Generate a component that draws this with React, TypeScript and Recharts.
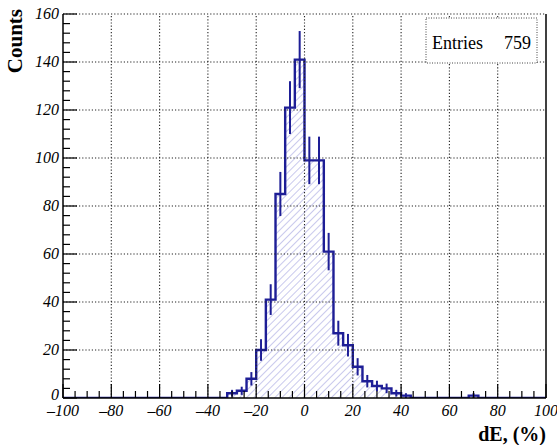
import React from 'react';
import { ComposedChart, Area, Scatter, ErrorBar, XAxis, YAxis, ReferenceLine } from 'recharts';

// Histogram binning: 50 bins of width 4 (%) from -100 to 100
const X_MIN = -100;
const X_MAX = 100;
const BIN_WIDTH = 4;

// Counts per bin (lower edges -100, -96, ..., 96)
const binCounts = [
  0, 0, 0, 0, 0, 0, 0, 0, // -100 .. -68
  0, 0, 0, 0, 0, 0, 0, 0, // -68 .. -36
  0, // -36 .. -32
  2, 3, 8, 20, 41, 85, 121, 141, // -32 .. 0
  99, 99, 61, 27, 22, 13, 7, 5, 4, 2, 1, // 0 .. 44
  0, 0, 0, 0, 0, 0, // 44 .. 68
  1, // 68 .. 72
  0, 0, 0, 0, 0, 0, 0, // 72 .. 100
];

// Error bar half-lengths (per bin)
const binErrors = [
  0, 0, 0, 0, 0, 0, 0, 0,
  0, 0, 0, 0, 0, 0, 0, 0,
  0,
  1.4, 1.7, 2.8, 4.5, 6.4, 9.2, 11, 11.9,
  9.9, 9.9, 7.8, 5.2, 4.7, 3.6, 2.6, 2.2, 2, 1.4, 1,
  0, 0, 0, 0, 0, 0,
  1,
  0, 0, 0, 0, 0, 0, 0,
];

const xMajorTicks = [-100, -80, -60, -40, -20, 0, 20, 40, 60, 80, 100];
const yMajorTicks = [0, 20, 40, 60, 80, 100, 120, 140, 160];
const X_MINOR_STEP = 5;
const Y_MINOR_STEP = 4;
const ENTRIES = 759;

const xAllTicks: number[] = [];
for (let v = X_MIN; v <= X_MAX; v += X_MINOR_STEP) xAllTicks.push(v);
const yAllTicks: number[] = [];
for (let v = 0; v <= 160; v += Y_MINOR_STEP) yAllTicks.push(v);

const lowEdges = binCounts.map((_, i) => X_MIN + i * BIN_WIDTH);
const areaData = [
  ...binCounts.map((c, i) => ({ x: lowEdges[i], y: c })),
  { x: X_MAX, y: binCounts[binCounts.length - 1] },
];
const errData = binCounts
  .map((c, i) => ({ x: lowEdges[i] + BIN_WIDTH / 2, y: c, err: binErrors[i] }))
  .filter((d) => d.y > 0);

const LINE = '#1e1e96';
const HATCH = '#9494dc';
const FONT = '"Liberation Serif", "Times New Roman", serif';

const fmt = (v: number) => (v < 0 ? '\u2013' + Math.abs(v) : String(v));

const XTick = (props: any) => {
  const { x, y, payload } = props;
  const v = payload.value;
  const major = v % 20 === 0;
  return (
    <g>
      <line x1={x} x2={x} y1={y} y2={y - (major ? 14 : 7)} stroke="#000" strokeWidth={1.2} />
      {major && (
        <text x={x} y={y + 18} textAnchor="middle" fontFamily={FONT} fontStyle="italic" fontSize={16} fill="#000">
          {fmt(v)}
        </text>
      )}
    </g>
  );
};

const YTick = (props: any) => {
  const { x, y, payload } = props;
  const v = payload.value;
  const major = v % 20 === 0;
  return (
    <g>
      <line x1={x} x2={x + (major ? 14 : 7)} y1={y} y2={y} stroke="#000" strokeWidth={1.2} />
      {major && (
        <text
          x={x - 4}
          y={v === 0 ? y - 3 : y}
          dy="0.33em"
          textAnchor="end"
          fontFamily={FONT}
          fontStyle="italic"
          fontSize={16}
          fill="#000"
        >
          {fmt(v)}
        </text>
      )}
    </g>
  );
};

export default function App() {
  return (
    <div style={{ position: 'absolute', left: 0, top: 0, width: 557, height: 445, background: '#fff' }}>
      <ComposedChart width={557} height={445} margin={{ top: 14, right: 11, bottom: 0, left: 0 }}>
        <defs>
          <pattern id="hatch" patternUnits="userSpaceOnUse" width="5" height="5" patternTransform="rotate(45)">
            <line x1="0" y1="0" x2="0" y2="5" stroke={HATCH} strokeWidth="1" />
          </pattern>
        </defs>
        <XAxis
          type="number"
          dataKey="x"
          domain={[X_MIN, X_MAX]}
          ticks={xAllTicks}
          interval={0}
          allowDataOverflow
          tickLine={false}
          tickSize={0}
          tickMargin={0}
          height={47}
          axisLine={{ stroke: '#000', strokeWidth: 1.5 }}
          tick={<XTick />}
        />
        <YAxis
          type="number"
          domain={[0, 160]}
          ticks={yAllTicks}
          interval={0}
          allowDataOverflow
          tickLine={false}
          tickSize={0}
          tickMargin={0}
          width={63}
          axisLine={{ stroke: '#000', strokeWidth: 1.5 }}
          tick={<YTick />}
        />
        {xMajorTicks
          .filter((v) => v !== X_MIN && v !== X_MAX)
          .map((v) => (
            <ReferenceLine key={'gx' + v} x={v} stroke="#222" strokeWidth={1.1} strokeDasharray="1.2 2" />
          ))}
        {yMajorTicks
          .filter((v) => v !== 0)
          .map((v) => (
            <ReferenceLine key={'gy' + v} y={v} stroke="#222" strokeWidth={1.1} strokeDasharray="1.2 2" />
          ))}
        <ReferenceLine x={X_MAX} stroke="#000" strokeWidth={1.5} />
        <Area
          data={areaData}
          type="stepAfter"
          dataKey="y"
          stroke={LINE}
          strokeWidth={2.4}
          fill="url(#hatch)"
          fillOpacity={1}
          dot={false}
          activeDot={false}
          isAnimationActive={false}
        />
        <Scatter data={errData} dataKey="y" shape={() => <g />} isAnimationActive={false}>
          <ErrorBar dataKey="err" direction="y" width={0} stroke={LINE} strokeWidth={2} />
        </Scatter>
      </ComposedChart>
      <svg
        width={557}
        height={445}
        style={{ position: 'absolute', left: 0, top: 0, pointerEvents: 'none' }}
      >
        <text
          transform="translate(22,9) rotate(-90)"
          textAnchor="end"
          fontFamily={FONT}
          fontWeight="bold"
          fontSize={21}
          fill="#000"
        >
          Counts
        </text>
        <text x={546} y={441} textAnchor="end" fontFamily={FONT} fontWeight="bold" fontSize={20} fill="#000">
          dE, (%)
        </text>
        <rect x={426} y={18} width={111} height={45} fill="#fff" stroke="#444" strokeWidth={1} strokeDasharray="1 1.5" />
        <text x={432} y={49} fontFamily={FONT} fontSize={18} fill="#000">
          Entries
        </text>
        <text x={531} y={49} textAnchor="end" fontFamily={FONT} fontSize={18} fill="#000">
          {ENTRIES}
        </text>
      </svg>
    </div>
  );
}
